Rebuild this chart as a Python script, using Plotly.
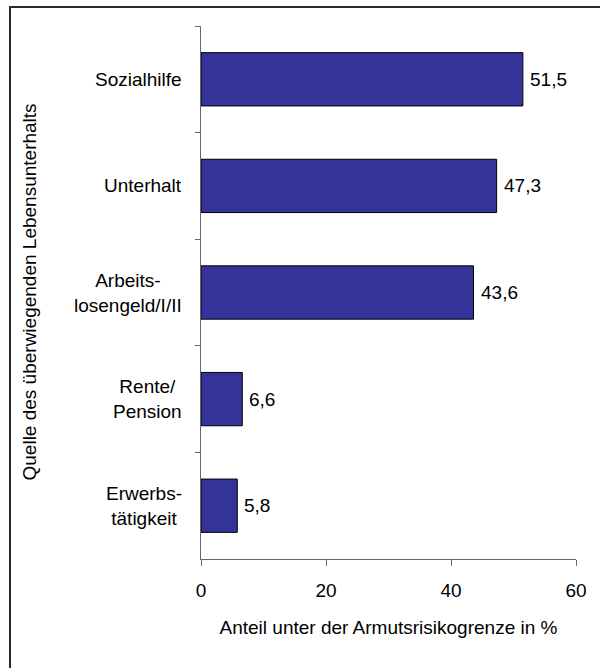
import plotly.graph_objects as go

categories = ["Sozialhilfe", "Unterhalt", "Arbeits-<br>losengeld/I/II", "Rente/<br>Pension", "Erwerbs-<br>tätigkeit"]
values = [51.5, 47.3, 43.6, 6.6, 5.8]
x_ticks = [0, 20, 40, 60]
x_title = "Anteil unter der Armutsrisikogrenze in %"
y_title = "Quelle des überwiegenden Lebensunterhalts"

FONT = "Liberation Sans, Arial, sans-serif"
FS = 19
W, H = 600, 668
L, R, T, B = 201, 24, 26, 109
pw, ph = W - L - R, H - T - B

fig = go.Figure()
fig.add_trace(go.Bar(
    x=values, y=categories, orientation="h", width=0.5,
    marker=dict(color="#333399", line=dict(color="#000000", width=1)),
    hoverinfo="skip",
))

annotations = []
for c, v in zip(categories, values):
    annotations.append(dict(
        x=0, xref="paper", y=c, yref="y", text=c, showarrow=False,
        xanchor="right", yanchor="middle", align="center", xshift=-17,
        font=dict(family=FONT, size=FS, color="#000000"),
    ))
    annotations.append(dict(
        x=v, xref="x", y=c, yref="y", text=f"{v:.1f}".replace(".", ","),
        showarrow=False, xanchor="left", yanchor="middle", xshift=5,
        font=dict(family=FONT, size=FS, color="#000000"),
    ))
annotations.append(dict(
    x=(29 - L) / pw, xref="paper", y=0.5, yref="paper", text=y_title,
    textangle=-90, showarrow=False, xanchor="center", yanchor="middle",
    font=dict(family=FONT, size=FS, color="#000000"),
))

fig.update_layout(
    width=W, height=H,
    margin=dict(l=L, r=R, t=T, b=B, autoexpand=False),
    paper_bgcolor="white", plot_bgcolor="white",
    showlegend=False,
    font=dict(family=FONT, size=FS, color="#000000"),
    annotations=annotations,
    shapes=[dict(
        type="rect", xref="paper", yref="paper",
        x0=(10 - L) / pw, x1=1.3, y0=-0.4, y1=1 + (T - 7) / ph,
        line=dict(color="#2a2a2a", width=2), fillcolor="rgba(0,0,0,0)",
        layer="below",
    )],
    xaxis=dict(
        range=[0, 60], tickvals=x_ticks, ticktext=[str(t) for t in x_ticks],
        showline=True, linecolor="#666666", linewidth=1,
        ticks="outside", ticklen=6, tickcolor="#666666",
        showgrid=False, zeroline=False,
        ticklabelstandoff=8,
        tickfont=dict(family=FONT, size=FS, color="#000000"),
        title=dict(text=x_title, standoff=20, font=dict(family=FONT, size=FS, color="#000000")),
        fixedrange=True,
    ),
    yaxis=dict(
        type="category", autorange="reversed",
        showline=True, linecolor="#666666", linewidth=1,
        ticks="outside", ticklen=5, tickcolor="#666666", tickson="boundaries",
        showticklabels=False, showgrid=False, zeroline=False,
        fixedrange=True,
    ),
)

fig.write_html(
    "out.html",
    config={"displayModeBar": False, "staticPlot": True},
    post_script="document.body.style.margin='0';document.body.style.overflow='hidden';",
)
